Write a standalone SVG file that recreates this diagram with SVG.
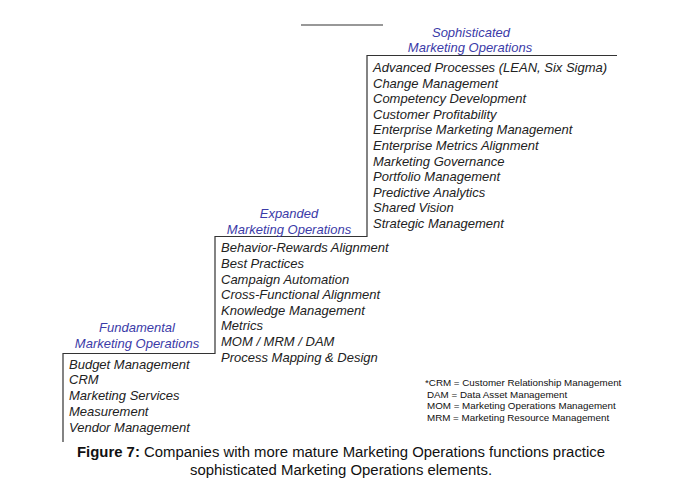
<svg xmlns="http://www.w3.org/2000/svg" width="674" height="496" viewBox="0 0 674 496">
<style>
.hd{font-family:"Liberation Sans",Arial,sans-serif;font-style:italic;font-size:13px;fill:#3b3ba8;text-anchor:middle}
.it{font-family:"Liberation Sans",Arial,sans-serif;font-style:italic;font-size:13px;fill:#222}
.fn{font-family:"Liberation Sans",Arial,sans-serif;font-size:9.8px;fill:#111}
.cap{font-family:"Liberation Sans",Arial,sans-serif;font-size:14.9px;fill:#111;text-anchor:middle}
.ln{stroke:#333;stroke-width:1.2;fill:none}
</style>
<rect width="674" height="496" fill="#fff"/>
<g id="connectors">
<path class="ln" d="M63,442 V353.5 H215 V236.5 H367 V55.5 H617"/>
<line class="ln" x1="301" y1="25" x2="383" y2="25"/>
</g>
<g id="sophisticated">
<text class="hd" x="471" y="37">Sophisticated</text>
<text class="hd" x="470" y="52">Marketing Operations</text>
<text class="it" x="373" y="72">Advanced Processes (LEAN, Six Sigma)</text>
<text class="it" x="373" y="88">Change Management</text>
<text class="it" x="373" y="103">Competency Development</text>
<text class="it" x="373" y="119">Customer Profitability</text>
<text class="it" x="373" y="134">Enterprise Marketing Management</text>
<text class="it" x="373" y="150">Enterprise Metrics Alignment</text>
<text class="it" x="373" y="166">Marketing Governance</text>
<text class="it" x="373" y="181">Portfolio Management</text>
<text class="it" x="373" y="197">Predictive Analytics</text>
<text class="it" x="373" y="212">Shared Vision</text>
<text class="it" x="373" y="228">Strategic Management</text>
</g>
<g id="expanded">
<text class="hd" x="289" y="218">Expanded</text>
<text class="hd" x="289" y="234">Marketing Operations</text>
<text class="it" x="221" y="252">Behavior-Rewards Alignment</text>
<text class="it" x="221" y="268">Best Practices</text>
<text class="it" x="221" y="284">Campaign Automation</text>
<text class="it" x="221" y="299">Cross-Functional Alignment</text>
<text class="it" x="221" y="315">Knowledge Management</text>
<text class="it" x="221" y="330">Metrics</text>
<text class="it" x="221" y="346">MOM / MRM / DAM</text>
<text class="it" x="221" y="362">Process Mapping &amp; Design</text>
</g>
<g id="fundamental">
<text class="hd" x="137" y="332">Fundamental</text>
<text class="hd" x="137" y="348">Marketing Operations</text>
<text class="it" x="69" y="369">Budget Management</text>
<text class="it" x="69" y="384">CRM</text>
<text class="it" x="69" y="400">Marketing Services</text>
<text class="it" x="69" y="416">Measurement</text>
<text class="it" x="69" y="432">Vendor Management</text>
</g>
<g id="footnote">
<text class="fn" x="425" y="386">*CRM = Customer Relationship Management</text>
<text class="fn" x="427" y="398">DAM = Data Asset Management</text>
<text class="fn" x="427" y="409">MOM = Marketing Operations Management</text>
<text class="fn" x="427" y="421">MRM = Marketing Resource Management</text>
</g>
<g id="caption">
<text class="cap" x="341" y="457"><tspan font-weight="bold">Figure 7:</tspan> Companies with more mature Marketing Operations functions practice</text>
<text class="cap" x="341" y="474.5">sophisticated Marketing Operations elements.</text>
</g>
</svg>
